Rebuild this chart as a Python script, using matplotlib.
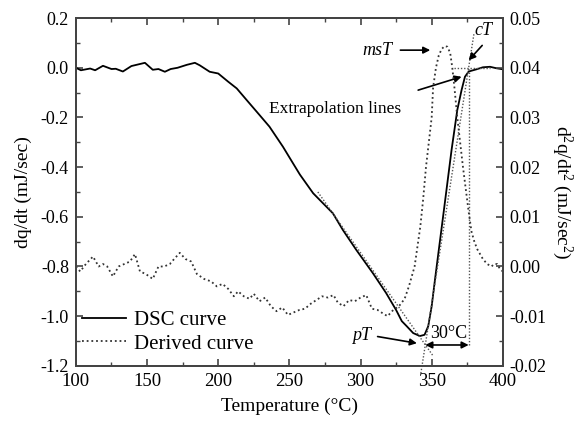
import matplotlib
matplotlib.use("Agg")
import matplotlib.pyplot as plt
from matplotlib.ticker import MultipleLocator, FormatStrFormatter

plt.rcParams['font.family'] = ['Liberation Serif', 'DejaVu Serif']
plt.rcParams['mathtext.fontset'] = 'custom'
plt.rcParams['mathtext.rm'] = 'Liberation Serif'
plt.rcParams['mathtext.it'] = 'Liberation Serif:italic'
plt.rcParams['axes.unicode_minus'] = False

# ---------------- data ----------------
# DSC curve (left axis, mJ/sec)
dsc_T = [100, 103.5, 110, 113.5, 119, 125, 128, 133, 139, 148.5, 154, 158, 162.5,
         166.6, 171.4, 178, 183.6, 187, 194, 200, 207, 213, 220, 229, 236, 245.5,
         252.6, 257.4, 266.7, 280.6, 287.6, 297, 308.7, 318, 325, 329, 332.4, 337,
         341.7, 345, 347.6, 350, 352.3, 358, 364, 368, 371, 373.4, 376, 381.6,
         386, 391, 395.6, 400]
dsc_v = [0.0, -0.01, -0.003, -0.01, 0.008, -0.005, -0.004, -0.015, 0.007, 0.02,
         -0.008, -0.005, -0.016, -0.005, 0.0, 0.012, 0.02, 0.01, -0.016, -0.023,
         -0.056, -0.083, -0.13, -0.19, -0.237, -0.318, -0.385, -0.43, -0.505,
         -0.586, -0.653, -0.733, -0.827, -0.907, -0.975, -1.02, -1.04, -1.068,
         -1.08, -1.075, -1.04, -0.96, -0.854, -0.6, -0.33, -0.17, -0.09, -0.036,
         -0.015, -0.006, 0.002, 0.004, -0.002, -0.006]

# Derived curve (right axis, mJ/sec^2)
der_T = [100, 103, 107, 112, 116, 119, 122, 126, 130, 134, 138, 141.5, 145, 149,
         154, 158, 162, 166, 169, 173, 177, 181, 185, 190, 195, 199, 203, 207,
         211, 214, 218, 222, 225, 229, 233, 237, 241, 245, 249, 253, 257, 261,
         265, 269, 273, 277, 281, 284, 288, 292, 296, 300, 304, 308, 312, 316,
         319, 323, 327, 331, 334, 336, 338, 340, 342, 344, 346, 348, 350, 351,
         353, 355, 357, 359, 361, 363, 364.5, 366, 368, 370, 372, 374, 376, 378,
         380, 382, 384, 386, 389, 392, 394, 396, 398, 400]
der_v = [0.0, -0.001, 0.0005, 0.002, 0.0, 0.0005, 0.0, -0.002, 0.0, 0.0005,
         0.001, 0.0025, -0.001, -0.0015, -0.0025, 0.0, 0.0, 0.0005, 0.0015,
         0.00275, 0.0015, 0.001, -0.0015, -0.0025, -0.003, -0.004, -0.0035,
         -0.0045, -0.006, -0.005, -0.006, -0.0065, -0.0055, -0.007, -0.00625,
         -0.008, -0.009, -0.00825, -0.00975, -0.00925, -0.00875, -0.0085,
         -0.0075, -0.00675, -0.006, -0.00625, -0.00575, -0.00725, -0.008,
         -0.00675, -0.007, -0.00625, -0.00575, -0.0085, -0.00875, -0.0095,
         -0.01, -0.00875, -0.008, -0.0065, -0.004, -0.002, 0.0, 0.004, 0.008,
         0.0135, 0.02, 0.025, 0.03, 0.036, 0.04, 0.0425, 0.04375, 0.04435,
         0.04425, 0.043, 0.04, 0.036, 0.03, 0.025, 0.02, 0.0155, 0.011, 0.007,
         0.005, 0.0035, 0.0025, 0.0015, 0.0005, 0.0, 0.0005, 0.0005, -0.0005,
         -0.001]

# Extrapolation lines (left-axis units)
desc_T = [270, 351]
desc_v = [-0.5, -1.16]
rise_T = [342.4, 379.8]
rise_v = [-1.23, 0.14]
hor_T = [366, 391]
hor_v = [0.0, 0.0]
vert_T = [376, 376]
vert_v = [-1.116, 0.0]

x_ticks = [100, 150, 200, 250, 300, 350, 400]

# ---------------- figure ----------------
fig = plt.figure(figsize=(5.84, 4.21), dpi=100)
ax = fig.add_axes([0.130, 0.131, 0.731, 0.826])
ax2 = ax.twinx()

spine_c = '#444444'
for a in (ax, ax2):
    for s in a.spines.values():
        s.set_color(spine_c)
        s.set_linewidth(1.4)

l1, = ax.plot(dsc_T, dsc_v, color='black', lw=1.3, label='DSC curve')
l2, = ax2.plot(der_T, der_v, color='#333333', lw=1.3, ls=(0, (1, 1.6)),
               label='Derived curve')

lc = '#555555'
ls_ex = (0, (1, 1.3))
ax.plot(desc_T, desc_v, color=lc, lw=1.0, ls=ls_ex)
ax.plot(rise_T, rise_v, color=lc, lw=1.0, ls=ls_ex, clip_on=False)
ax.plot(hor_T, hor_v, color=lc, lw=1.0, ls=ls_ex)
ax.plot(vert_T, vert_v, color=lc, lw=1.0, ls=ls_ex)

ax.set_xlim(100, 400)
ax.set_ylim(-1.2, 0.2)
ax2.set_ylim(-0.02, 0.05)

ax.set_xticks(x_ticks)
ax.xaxis.set_minor_locator(MultipleLocator(25))
ax.yaxis.set_major_locator(MultipleLocator(0.2))
ax.yaxis.set_minor_locator(MultipleLocator(0.1))
ax.yaxis.set_major_formatter(FormatStrFormatter('%.1f'))
ax2.yaxis.set_major_locator(MultipleLocator(0.01))
ax2.yaxis.set_minor_locator(MultipleLocator(0.005))
ax2.yaxis.set_major_formatter(FormatStrFormatter('%.2f'))

ax.tick_params(which='both', direction='in', top=True, right=False,
               color=spine_c, labelsize=13)
ax.tick_params(which='major', length=5, width=1.2)
ax.tick_params(which='minor', length=3, width=1.0)
ax.tick_params(axis='x', which='major', pad=5, labelsize=13.5)
ax.tick_params(axis='y', which='major', pad=5)
ax2.tick_params(which='both', direction='in', color=spine_c, labelsize=13)
ax2.tick_params(which='major', length=5, width=1.2, pad=5)
ax2.tick_params(which='minor', length=3, width=1.0)

ax.set_xlabel('Temperature (°C)', fontsize=14, labelpad=6)
ax.set_ylabel('dq/dt (mJ/sec)', fontsize=14, labelpad=6)
ax2.set_ylabel(r'd$^2$q/dt$^2$ (mJ/sec$^2$)', fontsize=14, rotation=270,
               labelpad=20)

arrow_kw = dict(arrowstyle='-|>', color='black', lw=1.2,
                mutation_scale=10, shrinkA=0, shrinkB=0)

ax.annotate('', xy=(349, 0.071), xytext=(328, 0.071), arrowprops=arrow_kw)
ax.text(311.5, 0.071, 'msT', fontsize=13, style='italic', ha='center', va='center')

ax.annotate('', xy=(376, 0.03), xytext=(385.5, 0.09), arrowprops=arrow_kw)
ax.text(386.5, 0.15, 'cT', fontsize=13, style='italic', ha='center', va='center')

ax.annotate('', xy=(371, -0.036), xytext=(340.5, -0.09), arrowprops=arrow_kw)
ax.text(236, -0.166, 'Extrapolation lines', fontsize=12.5, ha='left', va='center')

ax.annotate('', xy=(339.6, -1.109), xytext=(312, -1.082), arrowprops=arrow_kw)
ax.text(301, -1.076, 'pT', fontsize=13, style='italic', ha='center', va='center')

ax.annotate('', xy=(345.5, -1.116), xytext=(376, -1.116),
            arrowprops=dict(arrowstyle='<|-|>', color='black', lw=1.2,
                            mutation_scale=10, shrinkA=0, shrinkB=0))
ax.text(362, -1.068, '30°C', fontsize=13, ha='center', va='center')

ax.legend(handles=[l1, l2], loc='lower left', bbox_to_anchor=(0.015, 0.035),
          frameon=False, fontsize=15, handlelength=2.1, handletextpad=0.4,
          labelspacing=0.2, borderpad=0, borderaxespad=0)

fig.savefig('out.png', dpi=100)
